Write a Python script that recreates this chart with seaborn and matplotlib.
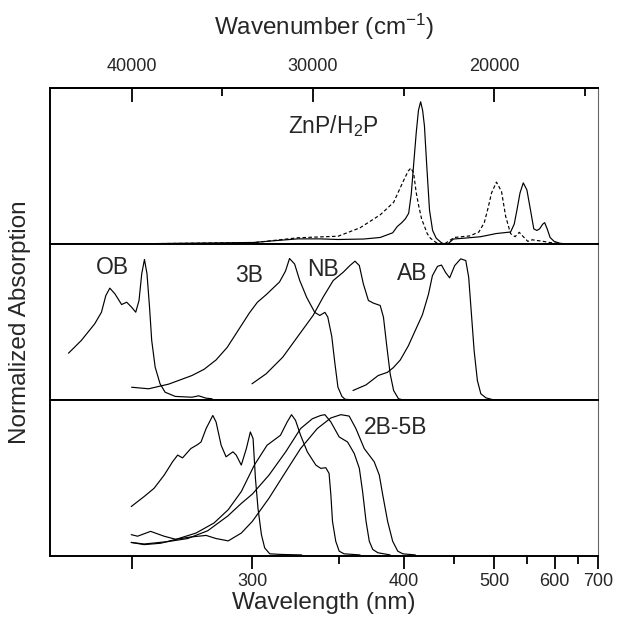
import matplotlib
matplotlib.use("Agg")
import matplotlib.pyplot as plt
import seaborn as sns

# ---------------- data (wavenumber in cm^-1, normalized absorption) ----------------
znp_nu = [40000, 33250, 32040, 30830, 29620, 28610, 27200, 26290, 25600, 25350, 25100, 24900,
          24720, 24580, 24440, 24300, 24180, 24060, 23950, 23850, 23720, 23570, 23400, 23200,
          22900, 22600, 22250, 21500, 20740, 19900, 19100, 18900, 18750, 18580, 18400, 18200,
          18000, 17820, 17650, 17500, 17330, 17220, 17080, 16920, 16700, 16300, 16000]
znp_abs = [0.004, 0.013, 0.025, 0.036, 0.036, 0.032, 0.035, 0.045, 0.075, 0.115, 0.14, 0.165,
           0.20, 0.32, 0.52, 0.72, 0.86, 0.915, 0.86, 0.76, 0.50, 0.22, 0.09, 0.04,
           0.01, 0.0, 0.035, 0.042, 0.05, 0.07, 0.08, 0.13, 0.22, 0.33, 0.395, 0.35,
           0.22, 0.10, 0.09, 0.10, 0.13, 0.14, 0.10, 0.045, 0.02, 0.005, 0.0]

h2p_nu = [40000, 33250, 30830, 28610, 27400, 26290, 25550, 25000, 24750, 24600, 24450, 24300,
          24170, 24000, 23890, 23700, 23520, 23200, 22800, 22200, 21350, 20850, 20550, 20350,
          20150, 19880, 19600, 19370, 19100, 18850, 18620, 18400, 18150, 17900, 17600, 17300,
          16900, 16500, 15900, 15700]
h2p_abs = [0.004, 0.012, 0.043, 0.053, 0.107, 0.19, 0.27, 0.41, 0.47, 0.49, 0.46, 0.33,
           0.25, 0.16, 0.13, 0.07, 0.04, 0.012, 0.0, 0.045, 0.055, 0.08, 0.14, 0.23,
           0.33, 0.40, 0.34, 0.18, 0.07, 0.05, 0.078, 0.05, 0.02, 0.03, 0.025, 0.02,
           0.012, 0.008, 0.004, 0.0]

ob_nu = [43480, 42770, 42030, 41660, 41420, 41200, 40920, 40550, 40270, 40000, 39770, 39590,
         39440, 39290, 39150, 39010, 38890, 38700, 38430, 38150, 37590, 36670, 36300, 35900, 35560]
ob_abs = [0.303, 0.385, 0.492, 0.566, 0.673, 0.72, 0.684, 0.615, 0.63, 0.598, 0.566, 0.641,
          0.812, 0.904, 0.812, 0.598, 0.385, 0.214, 0.107, 0.053, 0.026, 0.021, 0.03, 0.015, 0.011]

b3_nu = [40000, 39060, 37950, 36670, 36000, 35340, 34730, 34230, 33510, 33060, 32560, 31840,
         31510, 31290, 31010, 30730, 30340, 29900, 29620, 29340, 29180, 28960, 28790, 28620,
         28400, 28230, 27400]
b3_abs = [0.085, 0.075, 0.105, 0.16, 0.20, 0.26, 0.34, 0.43, 0.56, 0.63, 0.68, 0.76,
          0.83, 0.91, 0.875, 0.77, 0.66, 0.565, 0.545, 0.565, 0.535, 0.41, 0.24, 0.085,
          0.026, 0.008, 0.0]

nb_nu = [33360, 32580, 31660, 30730, 29990, 29440, 28880, 28330, 27960, 27680, 27440, 27220,
         26940, 26660, 26290, 26110, 25920, 25740, 25550, 25280, 24900]
nb_abs = [0.107, 0.171, 0.278, 0.427, 0.545, 0.662, 0.769, 0.822, 0.865, 0.893, 0.865, 0.748,
          0.641, 0.624, 0.609, 0.534, 0.342, 0.171, 0.064, 0.011, 0.0]

ab_nu = [27790, 27070, 26400, 25900, 25570, 25180, 24740, 24350, 23960, 23630, 23410, 23130,
         22910, 22680, 22460, 22180, 21850, 21570, 21410, 21260, 21110, 20930, 20740, 20460, 19910]
ab_abs = [0.064, 0.10, 0.16, 0.18, 0.21, 0.26, 0.35, 0.45, 0.55, 0.68, 0.80, 0.86,
          0.868, 0.82, 0.786, 0.865, 0.908, 0.897, 0.79, 0.556, 0.32, 0.128, 0.043, 0.017, 0.0]

s2b_nu = [40020, 39310, 38760, 38200, 37740, 37460, 37190, 36730, 36350, 36170, 35890, 35520,
          35340, 35060, 34790, 34410, 34230, 33950, 33670, 33450, 33300, 33170, 33030, 32840,
          32660, 32380, 31730, 30620]
s2b_abs = [0.32, 0.384, 0.437, 0.522, 0.607, 0.65, 0.632, 0.692, 0.718, 0.734, 0.82, 0.904,
           0.862, 0.713, 0.639, 0.671, 0.65, 0.586, 0.692, 0.798, 0.756, 0.501, 0.31, 0.14,
           0.055, 0.017, 0.013, 0.01]

s3b_nu = [40020, 39310, 38390, 37550, 36450, 35450, 34670, 33950, 33230, 32530, 31790, 31420,
          31180, 30960, 30680, 30310, 29840, 29570, 29290, 29110, 29010, 28920, 28740, 28550,
          28280, 27400]
s3b_abs = [0.09, 0.076, 0.085, 0.11, 0.15, 0.215, 0.30, 0.416, 0.586, 0.713, 0.777, 0.862,
           0.909, 0.873, 0.777, 0.671, 0.586, 0.565, 0.569, 0.533, 0.395, 0.225, 0.097, 0.034,
           0.017, 0.01]

s4b_nu = [40020, 39310, 38020, 36910, 35800, 34690, 33950, 33340, 32420, 31500, 30680, 30030,
          29570, 29340, 29010, 28550, 28090, 27720, 27440, 27260, 27070, 26890, 26700, 26420, 25740]
s4b_abs = [0.09, 0.08, 0.095, 0.115, 0.165, 0.26, 0.34, 0.40, 0.522, 0.671, 0.82, 0.883,
           0.904, 0.909, 0.862, 0.766, 0.734, 0.66, 0.565, 0.416, 0.225, 0.097, 0.045, 0.024, 0.01]

s5b_nu = [40020, 39670, 38950, 38210, 37560, 36730, 35890, 35340, 34670, 33950, 33340, 32420,
          31500, 30680, 29760, 29010, 28460, 28000, 27630, 27170, 26620, 26340, 26150, 25880,
          25600, 25320, 25040, 24350]
s5b_abs = [0.14, 0.13, 0.161, 0.13, 0.11, 0.125, 0.135, 0.115, 0.10, 0.15, 0.225, 0.374,
           0.543, 0.692, 0.82, 0.888, 0.909, 0.90, 0.82, 0.692, 0.607, 0.522, 0.395, 0.225,
           0.097, 0.034, 0.017, 0.01]

wl_major = [250, 300, 400, 500, 600, 700]
wl_major_labels = ["", "300", "400", "500", "600", "700"]
wl_minor = [350, 450, 550, 650]
wn_major = [40000, 30000, 20000]
wn_major_labels = ["40000", "30000", "20000"]
wn_minor = [35000, 25000, 15000]

panel_labels = ["ZnP/H$\\mathregular{_2}$P", "OB", "3B", "NB", "AB", "2B-5B"]

# ---------------- style ----------------
sns.set_theme(style="white")
plt.rcParams["font.family"] = ["Liberation Sans", "DejaVu Sans"]
plt.rcParams["mathtext.fontset"] = "custom"
plt.rcParams["mathtext.rm"] = "Liberation Sans"
plt.rcParams["mathtext.it"] = "Liberation Sans"

fig, axes = plt.subplots(3, 1, sharex=True, figsize=(6.17, 6.21), dpi=100)
fig.subplots_adjust(left=0.081, right=0.969, top=0.8575, bottom=0.1039, hspace=0)

LW = 0.85


def curve(ax, nu, a, ls="-"):
    sns.lineplot(x=nu, y=a, ax=ax, color="black", lw=LW, linestyle=ls,
                 sort=False, estimator=None)


curve(axes[0], znp_nu, znp_abs)
curve(axes[0], h2p_nu, h2p_abs, ls=(0, (3, 2)))
for nu, a in [(ob_nu, ob_abs), (b3_nu, b3_abs), (nb_nu, nb_abs), (ab_nu, ab_abs)]:
    curve(axes[1], nu, a)
for nu, a in [(s2b_nu, s2b_abs), (s3b_nu, s3b_abs), (s4b_nu, s4b_abs), (s5b_nu, s5b_abs)]:
    curve(axes[2], nu, a)

FS_LAB = 16.5
axes[0].text(28900, 0.716, panel_labels[0], ha="center", va="baseline", fontsize=FS_LAB)
axes[1].text(41066, 0.808, panel_labels[1], ha="center", va="baseline", fontsize=FS_LAB)
axes[1].text(33506, 0.758, panel_labels[2], ha="center", va="baseline", fontsize=FS_LAB)
axes[1].text(29455, 0.801, panel_labels[3], ha="center", va="baseline", fontsize=FS_LAB)
axes[1].text(24515, 0.774, panel_labels[4], ha="center", va="baseline", fontsize=FS_LAB)
axes[2].text(25415, 0.782, panel_labels[5], ha="center", va="baseline", fontsize=FS_LAB)

for ax in axes:
    ax.set_ylim(0, 1)
    ax.set_yticks([])
    ax.set_ylabel("")
    ax.set_xlabel("")
    for side in ["left", "top", "bottom"]:
        ax.spines[side].set_visible(True)
        ax.spines[side].set_color("black")
        ax.spines[side].set_linewidth(1.4)
    ax.spines["right"].set_color("#666666")
    ax.spines["right"].set_linewidth(0.8)
    ax.tick_params(axis="x", which="major", direction="out", length=9, width=1.3,
                   color="black", bottom=True, top=False, labelsize=13, pad=3)
    ax.tick_params(axis="x", which="minor", direction="out", length=6, width=1.3,
                   color="black", bottom=True, top=False)

ax_b = axes[2]
ax_b.set_xlim(44500, 1e7 / 700)
ax_b.set_xticks([1e7 / w for w in wl_major])
ax_b.set_xticklabels(wl_major_labels)
ax_b.set_xticks([1e7 / w for w in wl_minor], minor=True)
ax_b.set_xlabel("Wavelength (nm)", fontsize=17.5, labelpad=1)

sec = axes[0].secondary_xaxis("top")
sec.set_xticks(wn_major)
sec.set_xticklabels(wn_major_labels)
sec.set_xticks(wn_minor, minor=True)
sec.tick_params(axis="x", which="major", direction="in", length=10, width=1.3,
                color="black", labelsize=13, pad=10)
sec.tick_params(axis="x", which="minor", direction="in", length=6, width=1.3, color="black")
sec.spines["top"].set_linewidth(1.4)
sec.spines["top"].set_color("black")
sec.set_xlabel("Wavenumber (cm$^{\\mathregular{-1}}$)", fontsize=17.5, labelpad=16)

fig.text(20 / 617, 1 - 322 / 621, "Normalized Absorption", rotation=90,
         ha="center", va="center", fontsize=17.5)

fig.savefig("out.png", dpi=100, facecolor="white")
